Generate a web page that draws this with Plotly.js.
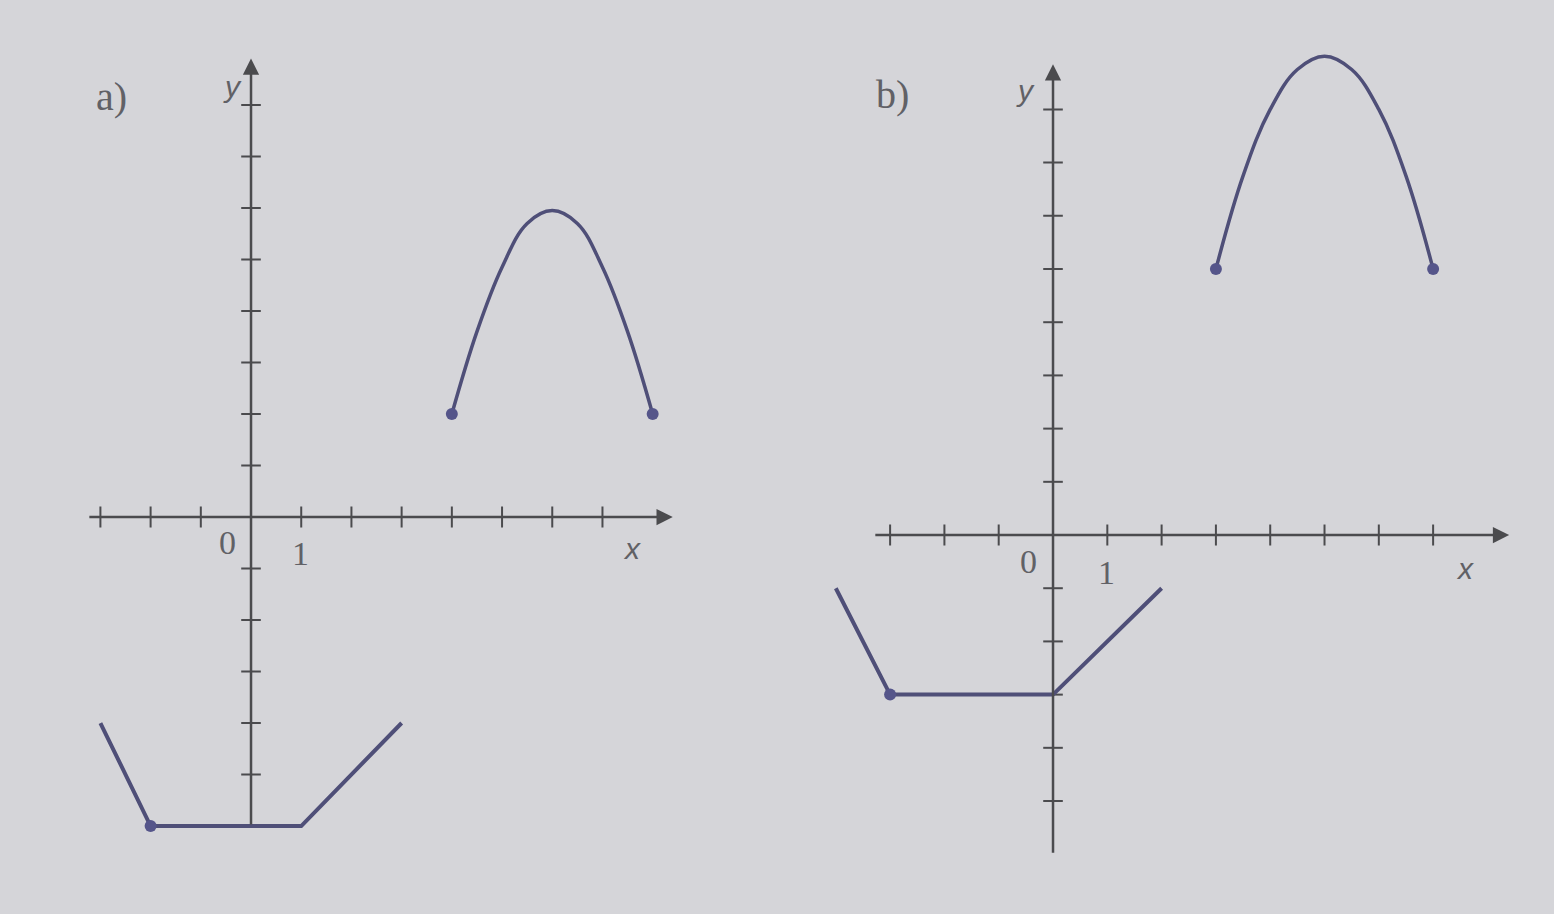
<!DOCTYPE html>
<html>
<head>
<meta charset="utf-8">
<script src="https://cdn.plot.ly/plotly-3.0.1.min.js"></script>
<style>
  html, body { margin: 0; padding: 0; background: #d5d5d9; }
  #chart { width: 1554px; height: 914px; }
</style>
</head>
<body>
<div id="chart"></div>
<script>
// Graph a: y = f(x)
const lowerAx = [-3, -2, 1, 3];
const lowerAy = [-4, -6, -6, -4];
const archAx = [4, 4.5, 5, 5.5, 6, 6.5, 7, 7.5, 8];
const archAy = [2, 3.6, 4.85, 5.7, 5.95, 5.7, 4.85, 3.6, 2];
const dotsAx = [-2, 4, 8];
const dotsAy = [-6, 2, 2];

// Graph b: y = f(x + 1) + 3
const lowerBx = [-4, -3, 0, 2];
const lowerBy = [-1, -3, -3, -1];
const archBx = [3, 3.5, 4, 4.5, 5, 5.5, 6, 6.5, 7];
const archBy = [5, 6.75, 8, 8.75, 9, 8.75, 8, 6.75, 5];
const dotsBx = [-3, 3, 7];
const dotsBy = [-3, 5, 5];

// Tick positions and labels shared by both coordinate systems
const xTicks = [-3, -2, -1, 1, 2, 3, 4, 5, 6, 7];
const yTicks = [-5, -4, -3, -2, -1, 1, 2, 3, 4, 5, 6, 7, 8];
const originLabel = '0';
const unitLabel = '1';
const panelLabels = ['a)', 'b)'];

const AXIS = '#4b4b4e';
const CURVE = '#4f4f78';
const TEXT = '#616166';

function panelTraces(xa, ya, lowX, lowY, archX, archY, dotX, dotY) {
  return [
    { x: xTicks, y: xTicks.map(() => 0), xaxis: xa, yaxis: ya, type: 'scatter', mode: 'markers',
      marker: { symbol: 'line-ns', size: 15, line: { width: 2, color: AXIS } }, hoverinfo: 'skip' },
    { x: yTicks.map(() => 0), y: yTicks, xaxis: xa, yaxis: ya, type: 'scatter', mode: 'markers',
      marker: { symbol: 'line-ew', size: 14, line: { width: 2, color: AXIS } }, hoverinfo: 'skip' },
    { x: lowX, y: lowY, xaxis: xa, yaxis: ya, type: 'scatter', mode: 'lines',
      line: { color: CURVE, width: 4 } },
    { x: archX, y: archY, xaxis: xa, yaxis: ya, type: 'scatter', mode: 'lines',
      line: { color: CURVE, width: 3.5, shape: 'spline', smoothing: 1.1 } },
    { x: dotX, y: dotY, xaxis: xa, yaxis: ya, type: 'scatter', mode: 'markers',
      marker: { color: '#55558a', size: 12 } }
  ];
}

const data = [
  ...panelTraces('x', 'y', lowerAx, lowerAy, archAx, archAy, dotsAx, dotsAy),
  ...panelTraces('x2', 'y2', lowerBx, lowerBy, archBx, archBy, dotsBx, dotsBy)
];

function axisArrows(xr, yr, xEnds, yEnds) {
  const base = { xref: xr, yref: yr, axref: xr, ayref: yr, text: '', showarrow: true,
                 arrowhead: 2, arrowsize: 1.3, arrowwidth: 2.5, arrowcolor: AXIS, standoff: 0, startstandoff: 0 };
  return [
    Object.assign({}, base, { x: xEnds[1], y: 0, ax: xEnds[0], ay: 0 }),
    Object.assign({}, base, { x: 0, y: yEnds[1], ax: 0, ay: yEnds[0] })
  ];
}

function axisText(xr, yr, yLabelX) {
  const serif = { family: 'Liberation Serif, DejaVu Serif, serif', size: 34, color: TEXT };
  const ital = { family: 'Liberation Sans, DejaVu Sans, sans-serif', size: 30, color: TEXT, style: 'italic' };
  return [
    { xref: xr, yref: yr, x: -0.46, y: -0.5, text: originLabel, showarrow: false, font: serif },
    { xref: xr, yref: yr, x: 0.98, y: -0.7, text: unitLabel, showarrow: false, font: serif },
    { xref: xr, yref: yr, x: 7.58, y: -0.62, text: 'x', showarrow: false, font: ital },
    { xref: xr, yref: yr, x: yLabelX, y: 8.35, text: 'y', showarrow: false, font: ital }
  ];
}

const panelFont = { family: 'Liberation Serif, DejaVu Serif, serif', size: 40, color: TEXT };

const layout = {
  width: 1554,
  height: 914,
  margin: { l: 0, r: 0, t: 0, b: 0 },
  paper_bgcolor: '#d5d5d9',
  plot_bgcolor: 'rgba(0,0,0,0)',
  showlegend: false,
  xaxis:  { domain: [0.0323, 0.4523], range: [-4, 9], visible: false, fixedrange: true },
  yaxis:  { domain: [0.0399, 0.9415], range: [-7, 9], visible: false, fixedrange: true },
  xaxis2: { domain: [0.5029, 0.9921], range: [-5, 9], visible: false, fixedrange: true, anchor: 'y2' },
  yaxis2: { domain: [0.0072, 0.9967], range: [-7, 10], visible: false, fixedrange: true, anchor: 'x2' },
  annotations: [
    ...axisArrows('x', 'y', [-3.25, 8.4], [-6, 8.9]),
    ...axisArrows('x2', 'y2', [-3.3, 8.4], [-6, 8.85]),
    ...axisText('x', 'y', -0.36),
    ...axisText('x2', 'y2', -0.5),
    { xref: 'paper', yref: 'paper', x: 111 / 1554, y: 1 - 97 / 914, xanchor: 'center', yanchor: 'middle',
      text: panelLabels[0], showarrow: false, font: panelFont },
    { xref: 'paper', yref: 'paper', x: 892 / 1554, y: 1 - 95 / 914, xanchor: 'center', yanchor: 'middle',
      text: panelLabels[1], showarrow: false, font: panelFont }
  ]
};

Plotly.newPlot('chart', data, layout, { staticPlot: true, displayModeBar: false });
</script>
</body>
</html>
